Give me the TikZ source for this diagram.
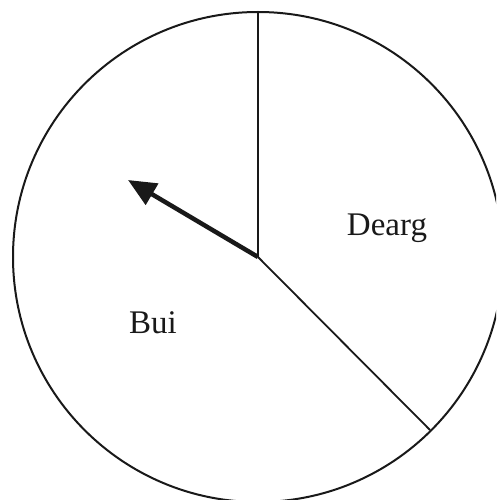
\documentclass[tikz,border=0pt]{standalone}
\usepackage{fontspec}
\setmainfont{Liberation Serif}
\usetikzlibrary{arrows.meta}
\begin{document}
\begin{tikzpicture}[x=1pt,y=-1pt,
  rim/.style={draw=black!90,line width=2pt},
  spoke/.style={draw=black!90,line width=1.8pt},
  pointer/.style={draw=black!90,line width=4.5pt,-{Triangle[length=28pt,width=24pt]}},
  lab/.style={font=\fontsize{33}{40}\selectfont,text=black!90,inner sep=0pt,anchor=base}]
\useasboundingbox (0,0) rectangle (496,500);
\clip (0,0) rectangle (496,500);
\coordinate (c) at (258,257);
\coordinate (top) at (258,13);
\coordinate (br) at (430,430);
\coordinate (tip) at (128,180);
\draw[rim] (c) circle (245);
\draw[spoke] (c) -- (top);
\draw[spoke] (c) -- (br);
\draw[pointer] (c) -- (tip);
\node[lab] (dearg) at (387,235) {Dearg};
\node[lab] (bui) at (153,333) {Bui};
\end{tikzpicture}
\end{document}
